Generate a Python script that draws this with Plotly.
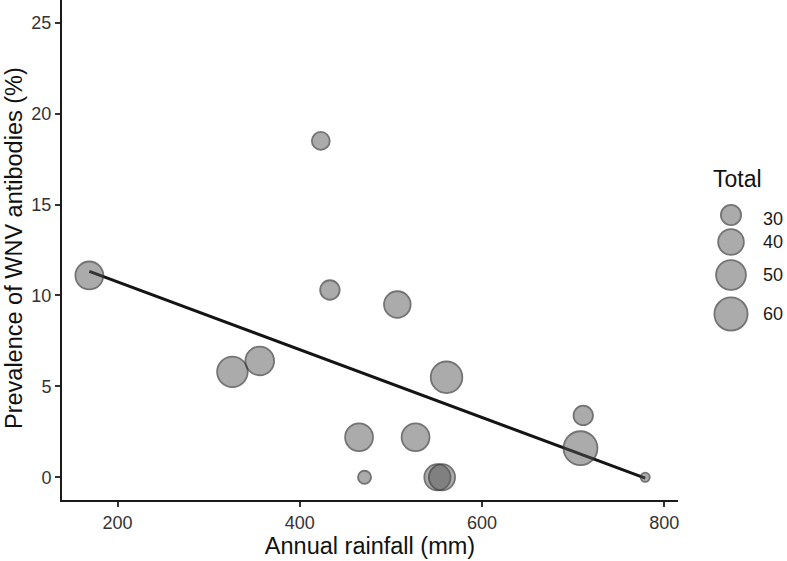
import numpy as np
import plotly.graph_objects as go

# ---- data ----
rainfall = [169, 326, 356, 423, 433, 507, 465, 527, 471, 551, 556, 561, 711, 708, 779]
prevalence = [11.1, 5.8, 6.4, 18.5, 10.3, 9.5, 2.2, 2.2, 0.0, 0.0, 0.0, 5.5, 3.4, 1.6, 0.0]
total = [45, 52, 47, 27, 29, 42, 45, 45, 23, 41, 41, 55, 29, 62, 22]
legend_totals = [30, 40, 50, 60]
x_ticks = [200, 400, 600, 800]
y_ticks = [0, 5, 10, 15, 20, 25]

# ---- size scale (area-like, ggplot style) ----
V_MIN, V_MAX = 22.0, 67.0
D_MIN, D_SPAN = 10.95, 26.2
STROKE = 1.8


def size_px(v):
    v = np.asarray(v, dtype=float)
    t = np.clip((v - V_MIN) / (V_MAX - V_MIN), 0, 1)
    return D_MIN + D_SPAN * np.sqrt(t) - STROKE


FILL = "rgba(85,85,85,0.70)"
EDGE = "#3a3a3a"
FONT = "Liberation Sans, Arial, sans-serif"
TICK_FONT = dict(family=FONT, size=18, color="#333333")
TITLE_FONT = dict(family=FONT, size=23.5, color="#111111")

# layout geometry (figure pixels)
L, PLOT_R, PLOT_B, W, H = 62, 678, 500, 787, 561
MAIN_FRAC = (PLOT_R - L) / (W - L)

# regression line
coef = np.polyfit(rainfall, prevalence, 1)
xl = np.array([min(rainfall), max(rainfall)])
yl = np.polyval(coef, xl)

fig = go.Figure()
fig.add_trace(go.Scatter(
    x=xl, y=yl, mode="lines",
    line=dict(color="#141414", width=3),
    showlegend=False, hoverinfo="skip"))
fig.add_trace(go.Scatter(
    x=rainfall, y=prevalence, mode="markers",
    marker=dict(size=size_px(total), color=FILL,
                line=dict(color=EDGE, width=STROKE)),
    showlegend=False))

# legend drawn on its own small pixel-scaled axes
LEG_X, LEG_LABEL_X = 731, 763
LEG_Y = [215, 242, 275, 314]
LEG_LABEL_Y = [220, 243, 276, 315]
fig.add_trace(go.Scatter(
    x=[LEG_X] * len(legend_totals), y=LEG_Y, mode="markers",
    marker=dict(size=size_px(legend_totals), color=FILL,
                line=dict(color=EDGE, width=STROKE)),
    xaxis="x2", yaxis="y2", showlegend=False, hoverinfo="skip"))
fig.add_trace(go.Scatter(
    x=[LEG_LABEL_X] * len(legend_totals), y=LEG_LABEL_Y, mode="text",
    text=[str(v) for v in legend_totals], textposition="middle right",
    textfont=dict(family=FONT, size=18, color="#1a1a1a"),
    xaxis="x2", yaxis="y2", showlegend=False, hoverinfo="skip",
    cliponaxis=False))

axis_common = dict(
    showgrid=False, zeroline=False, showline=True, automargin=False,
    linecolor="#1a1a1a", linewidth=2,
    ticks="outside", ticklen=5, tickwidth=1.5, tickcolor="#333333",
    tickfont=TICK_FONT,
)

fig.update_layout(
    width=W, height=H,
    paper_bgcolor="white", plot_bgcolor="white",
    margin=dict(l=L, r=0, t=0, b=H - PLOT_B),
    font=dict(family=FONT),
    xaxis=dict(
        domain=[0, MAIN_FRAC],
        range=[139, 815], tickvals=x_ticks,
        title=dict(text="Annual rainfall (mm)", font=TITLE_FONT, standoff=4),
        **axis_common),
    yaxis=dict(
        range=[-1.25, 26.25], tickvals=y_ticks,
        **axis_common),
    xaxis2=dict(domain=[MAIN_FRAC, 1.0], range=[PLOT_R, W], visible=False,
                anchor="y2"),
    yaxis2=dict(domain=[0, 1], range=[PLOT_B, 0], visible=False,
                anchor="x2"),
    annotations=[
        dict(text="Total", xref="x2", yref="y2",
             x=711, y=179, xanchor="left", yanchor="middle",
             showarrow=False, font=dict(family=FONT, size=23, color="#111111")),
        dict(text="Prevalence of WNV antibodies (%)", textangle=-90,
             xref="paper", yref="paper",
             x=(14 - L) / (W - L), y=1 - 248 / PLOT_B,
             xanchor="center", yanchor="middle",
             showarrow=False, font=TITLE_FONT),
    ],
)

fig.write_html("out.html",
               config={"displayModeBar": False},
               post_script="document.body.style.margin='0';")
